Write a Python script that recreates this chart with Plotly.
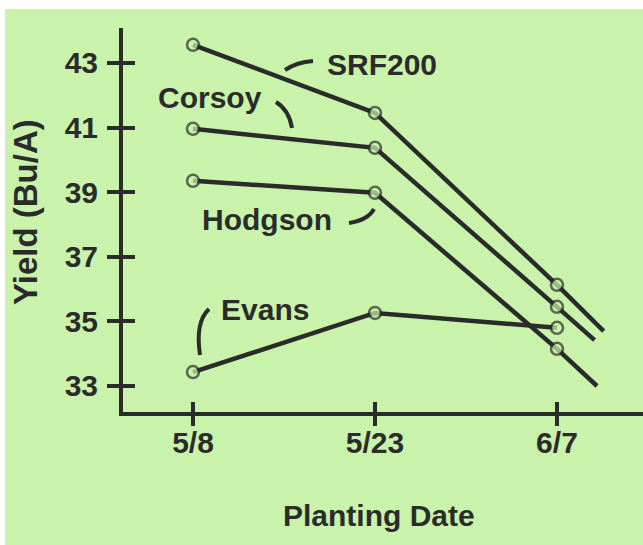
import plotly.graph_objects as go

# ---- data ----
date_labels = ["5/8", "5/23", "6/7"]
date_days = [0, 15, 30]

varieties = ["SRF200", "Corsoy", "Hodgson", "Evans"]
srf200 = [43.56, 41.45, 36.13]
corsoy = [40.96, 40.37, 35.45]
hodgson = [39.35, 38.98, 34.15]
evans = [33.43, 35.26, 34.80]

# lines continue past the last planting date (no marker)
tail_day = [33.85, 33.10, 33.30, None]
tail_yield = [34.70, 34.42, 33.00, None]

yield_ticks = [33, 35, 37, 39, 41, 43]

# ---- styling / layout ----
W_FIG, H_FIG = 643, 545
L, T = 123, 28
PW, PH = 520, 384
INK = "#2b2b2b"
BG = "#c9f3aa"
FONT = "Liberation Sans"

x_range = [-5.77, 37.09]
y_range = [32.195, 44.08]


def px(xp):
    return (xp - L) / PW


def py(yp):
    return (T + PH - yp) / PH


fig = go.Figure()

series = [srf200, corsoy, hodgson, evans]
for name, vals, td, ty in zip(varieties, series, tail_day, tail_yield):
    xs = list(date_days)
    ys = list(vals)
    sizes = [12, 12, 12]
    if td is not None:
        xs.append(td)
        ys.append(ty)
        sizes.append(0)
    fig.add_trace(go.Scatter(
        x=xs, y=ys, mode="lines+markers", name=name,
        line=dict(color=INK, width=4.5),
        marker=dict(size=sizes, color=BG, line=dict(color=INK, width=2.5)),
        showlegend=False, hoverinfo="skip",
    ))

# invisible trace on overlay axes for inward ticks
fig.add_trace(go.Scatter(x=[date_days[0]], y=[yield_ticks[0]], xaxis="x2", yaxis="y2",
                         mode="markers", marker=dict(opacity=0), showlegend=False,
                         hoverinfo="skip"))

tick_font = dict(family=FONT, size=30, color=INK, weight="bold")

fig.update_layout(
    width=W_FIG, height=H_FIG,
    margin=dict(l=L, r=W_FIG - L - PW, t=T, b=H_FIG - T - PH, pad=0),
    paper_bgcolor=BG,
    plot_bgcolor="rgba(0,0,0,0)",
    xaxis=dict(range=x_range, tickvals=date_days, ticktext=date_labels,
               showgrid=False, zeroline=False, showline=True, linewidth=4, linecolor=INK,
               ticks="outside", ticklen=10, tickwidth=4, tickcolor=INK,
               tickfont=tick_font, ticklabelstandoff=-9),
    yaxis=dict(range=y_range, tickvals=yield_ticks,
               showgrid=False, zeroline=False, showline=True, linewidth=4, linecolor=INK,
               ticks="outside", ticklen=12, tickwidth=4, tickcolor=INK,
               tickfont=tick_font, ticklabelstandoff=3),
    xaxis2=dict(range=x_range, tickvals=date_days, overlaying="x", anchor="y2",
                showgrid=False, zeroline=False, showline=False, showticklabels=False,
                ticks="inside", ticklen=10, tickwidth=4, tickcolor=INK),
    yaxis2=dict(range=y_range, tickvals=yield_ticks, overlaying="y", anchor="x2",
                showgrid=False, zeroline=False, showline=False, showticklabels=False,
                ticks="inside", ticklen=12, tickwidth=4, tickcolor=INK),
)

# thin white border of the page at top and left
fig.add_shape(type="rect", xref="paper", yref="paper", layer="below",
              x0=px(-5), x1=px(W_FIG + 5), y0=py(9), y1=py(-5),
              fillcolor="white", line=dict(width=0))
fig.add_shape(type="rect", xref="paper", yref="paper", layer="below",
              x0=px(-5), x1=px(5), y0=py(H_FIG + 5), y1=py(-5),
              fillcolor="white", line=dict(width=0))

# leader strokes (pixel paths converted to paper coords)
leaders = [
    [(285, 70), (297, 62), (313, 61)],
    [(276, 102), (289, 110), (292, 128)],
    [(349, 223), (368, 220), (374, 209)],
    [(209, 309), (195, 322), (200, 355)],
]
for (a, c, b) in leaders:
    path = "M {:.4f},{:.4f} Q {:.4f},{:.4f} {:.4f},{:.4f}".format(
        px(a[0]), py(a[1]), px(c[0]), py(c[1]), px(b[0]), py(b[1]))
    fig.add_shape(type="path", xref="paper", yref="paper", path=path,
                  line=dict(color=INK, width=4))

label_pos = {"SRF200": (382, 65), "Corsoy": (210, 97), "Hodgson": (267, 219), "Evans": (265, 309)}
for name in varieties:
    x0, y0 = label_pos[name]
    fig.add_annotation(text="<b>%s</b>" % name, xref="paper", yref="paper",
                       x=px(x0), y=py(y0), xanchor="center", yanchor="middle",
                       showarrow=False, font=dict(family=FONT, size=30, color=INK))

fig.add_annotation(text="<b>Yield (Bu/A)</b>", xref="paper", yref="paper",
                   x=px(25), y=py(212), xanchor="center", yanchor="middle", textangle=-90,
                   showarrow=False, font=dict(family=FONT, size=33, color=INK))
fig.add_annotation(text="<b>Planting Date</b>", xref="paper", yref="paper",
                   x=px(379), y=py(515), xanchor="center", yanchor="middle",
                   showarrow=False, font=dict(family=FONT, size=30, color=INK))

fig.write_html("out.html", config={"displayModeBar": False},
               post_script="document.body.style.margin='0px';document.body.style.overflow='hidden';"
                           "document.body.style.background='" + BG + "';"
                           "document.documentElement.style.background='" + BG + "';"
                           "document.documentElement.style.overflow='hidden';")
